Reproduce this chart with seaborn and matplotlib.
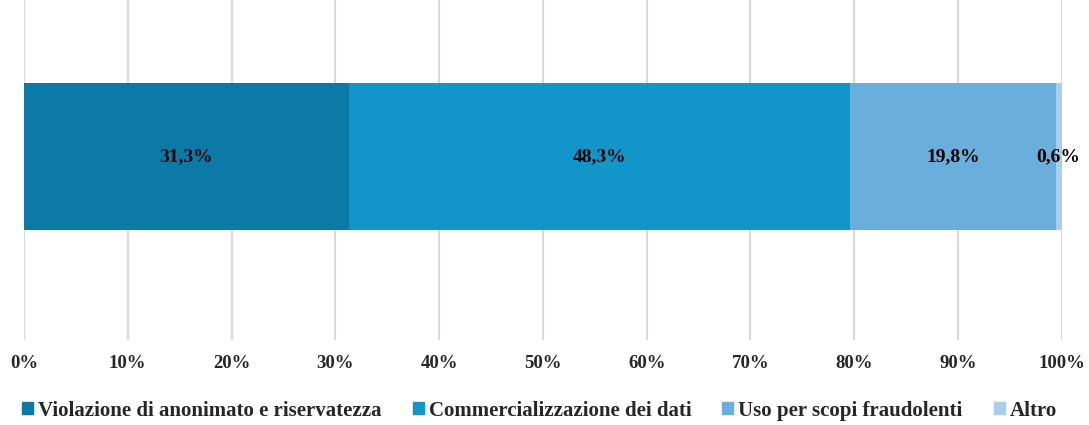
import matplotlib.pyplot as plt
import matplotlib.patches as mpatches
import pandas as pd
import seaborn as sns

# Dati
categorie = ['Violazione di anonimato e riservatezza', 'Commercializzazione dei dati',
             'Uso per scopi fraudolenti', 'Altro']
valori = [31.3, 48.3, 19.8, 0.6]
colori = ['#0B7AA6', '#1295C8', '#6AAFDB', '#AACDE8']
tick_labels = ['0%', '10%', '20%', '30%', '40%', '50%', '60%', '70%', '80%', '90%', '100%']

sns.set_style('white')
plt.rcParams['font.family'] = ['Liberation Serif', 'DejaVu Serif']
plt.rcParams['font.weight'] = 'bold'

df = pd.DataFrame({'cat': categorie, 'val': valori})
df['cum'] = df['val'].cumsum()
df['riga'] = ''

fig = plt.figure(figsize=(10.89, 4.25), dpi=100)
ax = fig.add_axes([0.022, 0.2, 0.953, 0.8])

# barre cumulative, dalla piu lunga alla piu corta
for i in range(len(df) - 1, -1, -1):
    sns.barplot(data=df.iloc[[i]], x='cum', y='riga', color=colori[i], orient='h',
                width=0.4, saturation=1, linewidth=0, ax=ax, zorder=2)

for i, r in df.iterrows():
    centro = r['cum'] - r['val'] / 2
    ax.text(centro, 0, f"{r['val']:.1f}%".replace('.', ','), ha='center', va='center',
            fontsize=14, fontweight='bold', color='black', zorder=3)

ax.set_xlim(0, 100)
ax.set_ylim(0.5, -0.426)
ax.set_xticks(range(0, 101, 10))
ax.set_xticklabels(tick_labels, fontsize=13.5, fontweight='bold')
ax.tick_params(axis='x', pad=11, length=0)
ax.set_yticks([])
ax.set_xlabel('')
ax.set_ylabel('')
ax.grid(axis='x', color='#D9D9D9', linewidth=1.5, zorder=0)
ax.set_axisbelow(True)
for s in ax.spines.values():
    s.set_visible(False)

handles = [mpatches.Patch(color=c, label=l) for c, l in zip(colori, categorie)]
fig.legend(handles=handles, loc='center', bbox_to_anchor=(0.4954, 0.034), ncol=4,
           frameon=False, prop={'size': 15, 'weight': 'bold'},
           handlelength=0.53, handleheight=0.53, handletextpad=0.24, columnspacing=1.5)

fig.savefig('out.png', dpi=100)
